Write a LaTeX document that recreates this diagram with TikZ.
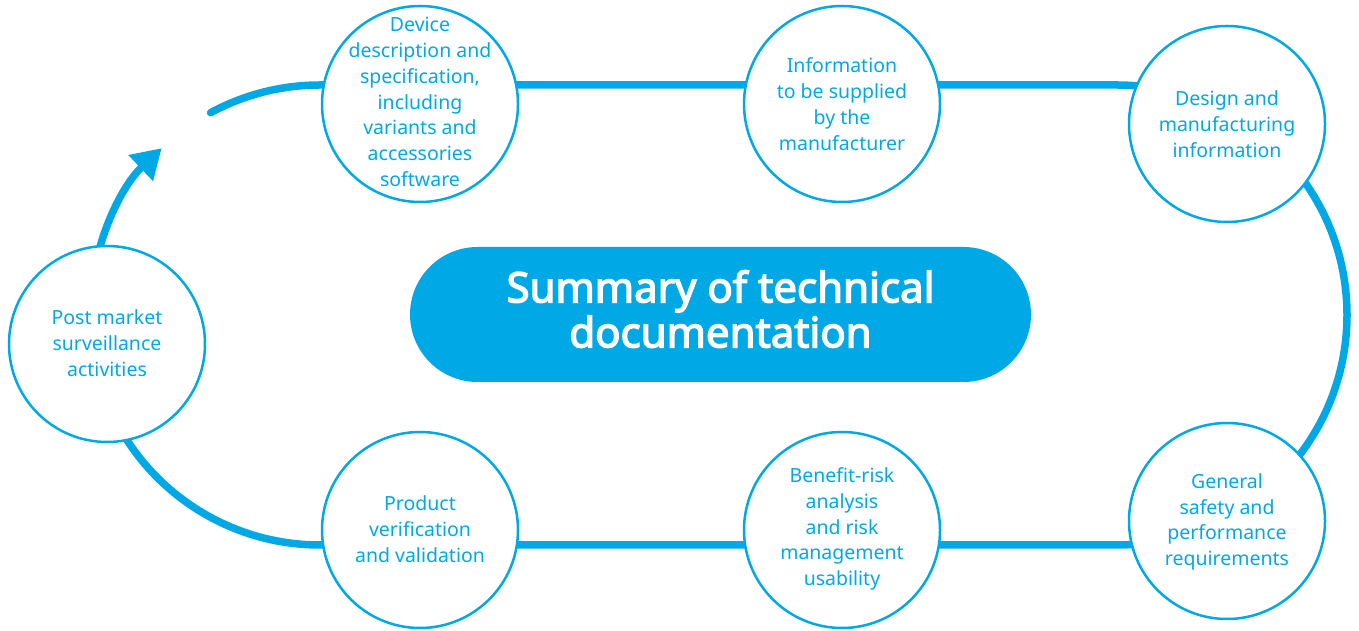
\documentclass[tikz,border=0pt]{standalone}
\usepackage{fontspec}
\setmainfont{Noto Sans}
\newfontfamily\titlefont{Noto Sans}[FakeBold=3.2]
\usetikzlibrary{arrows.meta}
\definecolor{tdblue}{RGB}{0,169,230}
\begin{document}
\begin{tikzpicture}[x=1pt,y=1pt,
  track/.style={draw=tdblue,line width=7.5pt},
  stage/.style={circle,draw=tdblue,line width=2.5pt,fill=white,minimum size=196pt,inner sep=0pt},
  stagetext/.style={text=tdblue,align=center,inner sep=0pt,font=\fontsize{19.5}{25.8}\selectfont},
  pill/.style={rounded corners=67.5pt,fill=tdblue,minimum width=621pt,minimum height=135pt},
  titletext/.style={text=white,align=center,inner sep=0pt,font=\titlefont\fontsize{42}{45}\selectfont}]
\useasboundingbox (0,0) rectangle (1359,631);
% stadium-shaped cycle behind the stages
\coordinate (cl) at (320,316);
\coordinate (cr) at (1117,316);
\draw[track,line cap=round] ([shift={(118.4:230)}]cl) arc[start angle=118.4,end angle=90,radius=230]
  -- ([shift={(90:230)}]cr) arc[start angle=90,end angle=-90,radius=230]
  -- ([shift={(270:230)}]cl) arc[start angle=270,end angle=205,radius=230];
% arrow leaving the post market stage
\draw[track,-{Triangle[width=34pt,length=29pt]}] ([shift={(175:230)}]cl) arc[start angle=175,end angle=133.5,radius=230];
% stages
\node[stage] (pm) at (107,287) {};
\node[stagetext] (pm-t) at (107,288) {Post market\\surveillance\\activities};
\node[stage] (dev) at (420,527) {};
\node[stagetext] (dev-t) at (420,529) {Device\\description and\\specification,\\including\\variants and\\accessories\\software};
\node[stage] (info) at (842,527) {};
\node[stagetext] (info-t) at (info) {Information\\to be supplied\\by the\\manufacturer};
\node[stage] (des) at (1227,507) {};
\node[stagetext] (des-t) at (des) {Design and\\manufacturing\\information};
\node[stage] (gen) at (1227,110) {};
\node[stagetext] (gen-t) at (1227,109) {General\\safety and\\performance\\requirements};
\node[stage] (ben) at (842,101) {};
\node[stagetext] (ben-t) at (842,102) {Benefit-risk\\analysis\\and risk\\management\\usability};
\node[stage] (prod) at (420,101) {};
\node[stagetext] (prod-t) at (420,102) {Product\\verification\\and validation};
% centre title
\node[pill] (title) at (720.5,316.5) {};
\node[titletext] (title-t) at (720.5,322) {Summary of technical\\documentation};
\end{tikzpicture}
\end{document}
